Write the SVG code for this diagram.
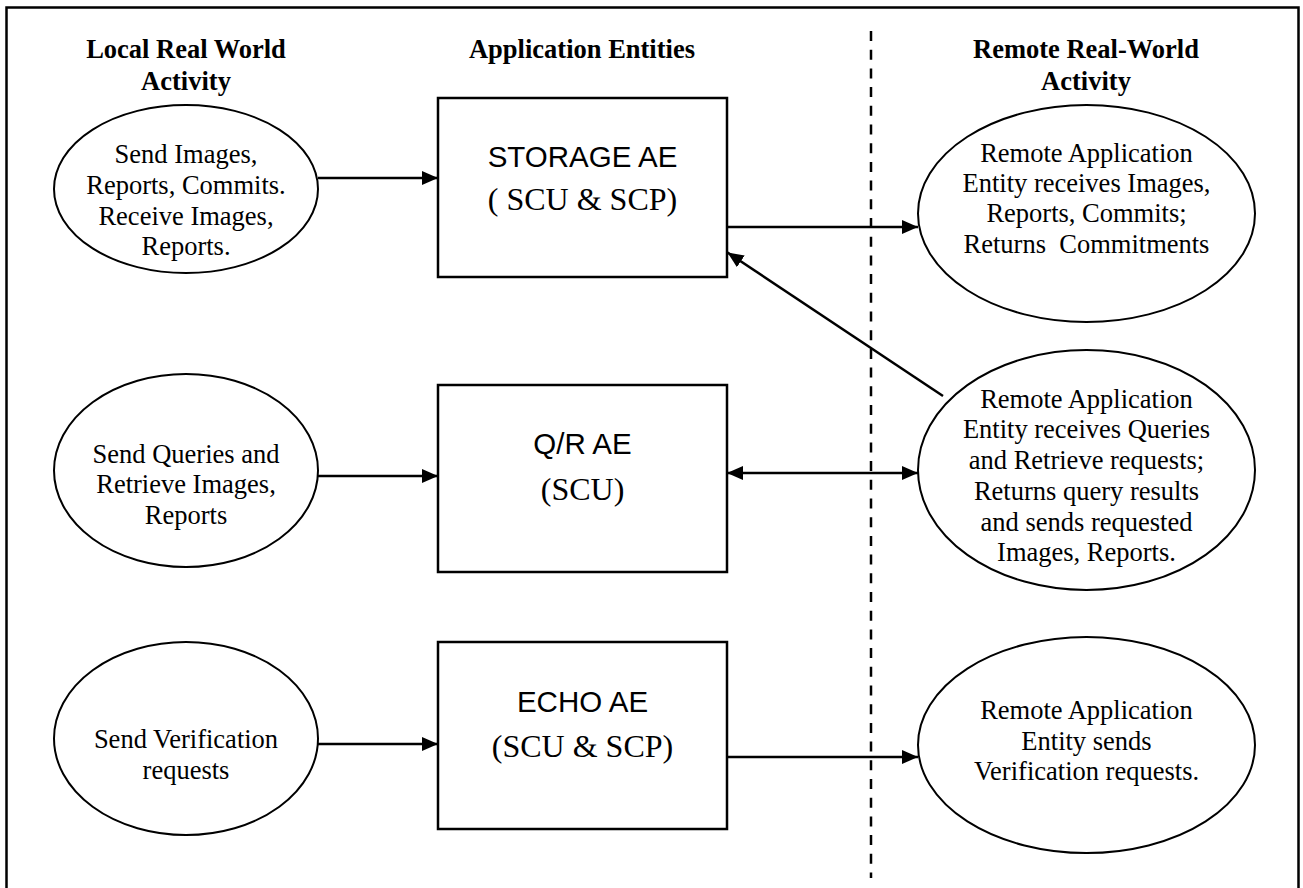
<svg xmlns="http://www.w3.org/2000/svg" width="1303" height="888" viewBox="0 0 1303 888">
<style>
.hdr{font-family:"Liberation Serif","Times New Roman",serif;font-weight:bold;font-size:26.5px;text-anchor:middle;fill:#000}
.t{font-family:"Liberation Serif","Times New Roman",serif;font-size:26.5px;text-anchor:middle;fill:#000}
.s{font-family:"Liberation Sans",Arial,sans-serif;font-size:29.5px;text-anchor:middle;fill:#000}
.sr{font-family:"Liberation Serif","Times New Roman",serif;font-size:32px;text-anchor:middle;fill:#000}
.el{fill:#fff;stroke:#000;stroke-width:2}
.bx{fill:#fff;stroke:#000;stroke-width:2.5}
.ln{stroke:#000;stroke-width:2.5;fill:none}
</style>
<defs>
<marker id="ah" viewBox="0 0 16 14" refX="16" refY="7" markerWidth="16" markerHeight="14" markerUnits="userSpaceOnUse" orient="auto-start-reverse">
<path d="M0,0 L16,7 L0,14 Z" fill="#000"/>
</marker>
</defs>
<rect x="0" y="0" width="1303" height="888" fill="#fff"/>
<path d="M6.5,900 V7.5 H1298.5 V900" fill="none" stroke="#000" stroke-width="2.5"/>
<line x1="871" y1="31" x2="871" y2="878" stroke="#000" stroke-width="2.5" stroke-dasharray="10 8.7"/>
<g id="headers">
<text class="hdr" x="186" y="58">Local Real World</text>
<text class="hdr" x="186" y="90">Activity</text>
<text class="hdr" x="582" y="58">Application Entities</text>
<text class="hdr" x="1086" y="58">Remote Real-World</text>
<text class="hdr" x="1086" y="90">Activity</text>
</g>
<g id="local-storage">
<ellipse class="el" cx="186" cy="189" rx="132" ry="84"/>
<text class="t" x="186" y="163">Send Images,</text>
<text class="t" x="186" y="194">Reports, Commits.</text>
<text class="t" x="186" y="225">Receive Images,</text>
<text class="t" x="186" y="255">Reports.</text>
</g>
<g id="local-qr">
<ellipse class="el" cx="186" cy="470.5" rx="132" ry="96.5"/>
<text class="t" x="186" y="463">Send Queries and</text>
<text class="t" x="186" y="493">Retrieve Images,</text>
<text class="t" x="186" y="524">Reports</text>
</g>
<g id="local-echo">
<ellipse class="el" cx="186" cy="738.5" rx="132" ry="96.5"/>
<text class="t" x="186" y="748">Send Verification</text>
<text class="t" x="186" y="779">requests</text>
</g>
<g id="storage-ae">
<rect class="bx" x="438" y="98" width="289" height="179"/>
<text class="s" x="582.5" y="167">STORAGE AE</text>
<text class="sr" x="582.5" y="210">( SCU &amp; SCP)</text>
</g>
<g id="qr-ae">
<rect class="bx" x="438" y="385" width="289" height="187"/>
<text class="s" x="582.5" y="454">Q/R AE</text>
<text class="sr" x="582.5" y="500">(SCU)</text>
</g>
<g id="echo-ae">
<rect class="bx" x="438" y="642" width="289" height="187"/>
<text class="s" x="582.5" y="712">ECHO AE</text>
<text class="sr" x="582.5" y="757">(SCU &amp; SCP)</text>
</g>
<g id="remote-storage">
<ellipse class="el" cx="1086.5" cy="213.5" rx="168.5" ry="108.5"/>
<text class="t" x="1086.5" y="162">Remote Application</text>
<text class="t" x="1086.5" y="192">Entity receives Images,</text>
<text class="t" x="1086.5" y="222">Reports, Commits;</text>
<text class="t" x="1086.5" y="253" xml:space="preserve">Returns  Commitments</text>
</g>
<g id="remote-qr">
<ellipse class="el" cx="1086.5" cy="470" rx="168.5" ry="120"/>
<text class="t" x="1086.5" y="408">Remote Application</text>
<text class="t" x="1086.5" y="438">Entity receives Queries</text>
<text class="t" x="1086.5" y="469">and Retrieve requests;</text>
<text class="t" x="1086.5" y="500">Returns query results</text>
<text class="t" x="1086.5" y="531">and sends requested</text>
<text class="t" x="1086.5" y="561">Images, Reports.</text>
</g>
<g id="remote-echo">
<ellipse class="el" cx="1086.5" cy="745" rx="168.5" ry="108"/>
<text class="t" x="1086.5" y="719">Remote Application</text>
<text class="t" x="1086.5" y="750">Entity sends</text>
<text class="t" x="1086.5" y="780">Verification requests.</text>
</g>
<g id="connectors">
<line class="ln" x1="318" y1="178" x2="438" y2="178" marker-end="url(#ah)"/>
<line class="ln" x1="727" y1="227" x2="918" y2="227" marker-end="url(#ah)"/>
<line class="ln" x1="943" y1="396" x2="727.5" y2="252.5" marker-end="url(#ah)"/>
<line class="ln" x1="318" y1="476" x2="438" y2="476" marker-end="url(#ah)"/>
<line class="ln" x1="727" y1="473" x2="918" y2="473" marker-start="url(#ah)" marker-end="url(#ah)"/>
<line class="ln" x1="318" y1="744" x2="438" y2="744" marker-end="url(#ah)"/>
<line class="ln" x1="727" y1="757" x2="918" y2="757" marker-end="url(#ah)"/>
</g>
</svg>
